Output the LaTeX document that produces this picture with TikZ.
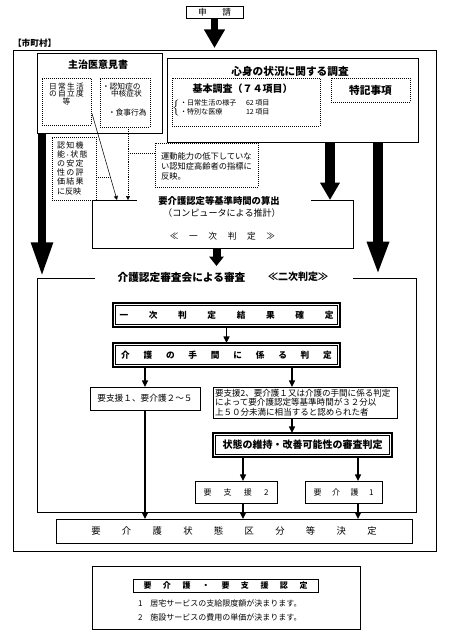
\documentclass[tikz,border=0pt]{standalone}
\usepackage{fontspec}
\setmainfont{Noto Sans CJK JP}
\usetikzlibrary{arrows.meta,calc}
\newcommand\fsz[2]{\fontsize{#1}{#2}\selectfont}
\tikzset{
  sz/.style n args={2}{minimum width=#1*0.75pt, minimum height=#2*0.75pt, inner sep=0pt, outer sep=0pt},
  solidbox/.style={draw, line width=0.6pt},
  dotbox/.style={draw, densely dotted, line width=0.5pt},
  dbl/.style={draw, line width=0.85pt},
  arr/.style={-{Triangle[length=5pt,width=4.5pt]}, line width=1pt},
  thinarr/.style={-{Triangle[length=3pt,width=3pt]}, line width=0.4pt},
  bigA/.style={line width=5.25pt, -{Triangle[width=15pt,length=14pt]}},
  bigB/.style={line width=7.5pt, -{Triangle[width=14pt,length=13pt]}},
  bigC/.style={line width=7.5pt, -{Triangle[width=15pt,length=25pt]}},
  bigD/.style={line width=6pt, -{Triangle[width=15pt,length=26pt]}},
  bigE/.style={line width=6pt, -{Triangle[width=10.5pt,length=7pt]}},
  txt/.style={inner sep=0pt, outer sep=0pt}
}
\begin{document}
\begin{tikzpicture}[x=0.75pt,y=-0.75pt]
\useasboundingbox (0,0) rectangle (451,636);

% top
\node[solidbox, sz={57}{12}, font=\fsz{6.5}{8}] (shinsei) at (214.5,12) {\makebox[24.75pt]{申\hfill 請}};
\node[txt, anchor=west, font=\fsz{6.5}{8}\bfseries] (shi) at (13,43) {【市町村】};
\node[solidbox, sz={423}{501}] (outer) at (224.5,300.5) {};
\draw[bigA] (shinsei.south) -- ($(shinsei.south |- outer.north)+(0,-2)$);

% 主治医意見書
\node[solidbox, sz={125}{80}] (shuji) at (99.5,93) {};
\node[txt, font=\fsz{7.5}{9}\bfseries] (shujit) at (98,65) {主治医意見書};
\node[dotbox, sz={49}{47}] (jiritsu) at (66.5,101.5) {};
\node[txt, align=center, font=\fsz{5.8}{5.9}] (jiritsut) at (66.5,94) {日\,常\,生\,活\\の\,自\,立\,度\\等};
\node[dotbox, sz={50}{49}] (ninchi) at (125,102.5) {};
\node[txt, anchor=west, font=\fsz{5.8}{6}] (nin1) at (102,87) {・認知症の};
\node[txt, anchor=west, font=\fsz{5.8}{6}] (nin2) at (111,94) {中核症状};
\node[txt, anchor=west, font=\fsz{5.8}{6}] (nin3) at (108,113) {・食事行為};

% 心身の状況に関する調査
\node[solidbox, sz={251}{84}] (shinshin) at (292.5,100) {};
\node[txt, font=\fsz{8}{9}\bfseries] (shinshint) at (290,71) {心身の状況に関する調査};
\node[dotbox, sz={148}{48}] (kihon) at (246,102) {};
\node[txt, font=\fsz{7.5}{9}\bfseries] (kihont) at (242.5,89) {基本調査（７４項目）};
\node[txt, anchor=west, font=\fsz{5.3}{6}] (it1) at (180,103) {・日常生活の様子};
\node[txt, anchor=west, font=\fsz{5.3}{6}] (it2) at (180,112) {・特別な医療};
\node[txt, anchor=west, font=\fsz{5.3}{6}] (it1n) at (246,103) {62 項目};
\node[txt, anchor=west, font=\fsz{5.3}{6}] (it2n) at (246,112) {12 項目};
\node[txt] (brace) at (177,108) {$\left\{\vcenter{\hbox{\rule{0pt}{13pt}}}\right.$};
\node[dotbox, sz={79}{24}, font=\fsz{8}{9}\bfseries] (tokki) at (370.5,90) {特記事項};

% side notes
\node[dotbox, sz={44}{63}] (ninchi2) at (74,168.5) {};
\node[txt, align=left, anchor=west, font=\fsz{6}{6.9}] (ninchi2t) at (57,168) {認\,知\,機\\能{\fsz{4}{4}・}状\,態\\の\,安\,定\\性\,の\,評\\価\,結\,果\\に反映};
\node[dotbox, sz={103}{44}] (undou) at (206.5,165) {};
\node[txt, align=left, anchor=west, font=\fsz{6.2}{7.5}] (undout) at (161,166) {運動能力の低下していな\\い認知症高齢者の指標に\\反映。};

% 一次判定 box (open top)
\node[sz={261}{48}] (kijun) at (222.5,224) {};
\draw[line width=0.6pt] ($(kijun.north west)+(45,0)$) -- (kijun.north west) -- (kijun.south west) -- (kijun.south east) -- (kijun.north east) -- ++(-42,0);
\node[txt, font=\fsz{7}{8}\bfseries] (kijunt) at (219,201) {要介護認定等基準時間の算出};
\node[txt, font=\fsz{6.8}{8}] (kijuns) at (222,213) {（コンピュータによる推計）};
\node[txt, font=\fsz{6.5}{8}] (ichiji) at (222.5,236) {\makebox[79pt]{≪\hfill 一\hfill 次\hfill 判\hfill 定\hfill ≫}};

% upper connectors
\coordinate (d1) at ($(jiritsu.east)+(1,12)$);
\coordinate (k1) at ($(kijun.north west)+(25,0)$);
\coordinate (k2) at ($(kijun.north west)+(36,0)$);
\coordinate (k3) at ($(kijun.north east)+(-23,0)$);
\draw[thinarr] (d1) -- (k1);
\draw[thinarr, densely dotted] (ninchi.south -| k2) -- (k2);
\draw[densely dotted, line width=0.5pt] ($(undou.west)+(0,-12)$) coordinate (u1) -- (u1 -| k2);
\coordinate (p) at ($(d1)!0.734!(k1)$);
\draw[densely dotted, line width=0.5pt] (p -| ninchi2.east) -- (p);

% 二次判定 frame (open top)
\node[sz={379}{234}] (niji) at (226.5,395) {};
\draw[line width=0.6pt] ($(niji.north west)+(58,0)$) -- (niji.north west) -- (niji.south west) -- (niji.south east) -- (niji.north east) -- ++(-63,0);
\node[txt, font=\fsz{8}{9}\bfseries] (nijit) at (181.5,277) {介護認定審査会による審査};
\node[txt, font=\fsz{7.5}{9}\bfseries] (nijis) at (298,277) {≪二次判定≫};

% big arrows
\draw[bigB] (shinshin.south -| k3) -- (k3);
\coordinate (n1) at ($(niji.north east)+(-38,-3)$);
\draw[bigC] (shinshin.south -| n1) -- (n1);
\coordinate (n2) at ($(niji.north west)+(5,-1)$);
\draw[bigD] (shuji.south -| n2) -- (n2);
\draw[bigE] ($(kijun.south)+(-6,0)$) -- ++(0,18);

% second-stage boxes
\node[dbl, sz={227}{24}, font=\fsz{6.5}{8}\bfseries] (kakutei) at (226.5,315) {\makebox[160.5pt]{一\hfill 次\hfill 判\hfill 定\hfill 結\hfill 果\hfill 確\hfill 定}};
\node[dbl, sz={227}{24}, font=\fsz{6.5}{8}\bfseries] (tema) at (226.5,355) {\makebox[158pt]{介\hfill 護\hfill の\hfill 手\hfill 間\hfill に\hfill 係\hfill る\hfill 判\hfill 定}};
\draw[arr] (kakutei) -- (tema);

\node[solidbox, sz={110}{23}, font=\fsz{6.5}{8}] (sien) at (145,398.5) {要支援１、要介護２～５};
\node[solidbox, sz={184}{31}] (hosoku) at (305,402.5) {};
\node[txt, align=left, anchor=west, font=\fsz{6.4}{7.1}] (hosokut) at (215,402.5) {要支援2、要介護１又は介護の手間に係る判定\\によって要介護認定等基準時間が３２分以\\上５０分未満に相当すると認められた者};
\node[dbl, sz={179}{24}, font=\fsz{7.5}{9}\bfseries] (jotai) at (302.5,445) {状態の維持・改善可能性の審査判定};
\node[solidbox, sz={82}{22}, font=\fsz{6}{8}] (sien2) at (236,492) {\makebox[48.75pt]{要\hfill 支\hfill 援\hfill 2}};
\node[solidbox, sz={77}{22}, font=\fsz{6}{8}] (kaigo1) at (343.5,492) {\makebox[45pt]{要\hfill 介\hfill 護\hfill 1}};
\node[solidbox, sz={356}{24}, font=\fsz{7}{8}] (kettei) at (234,531) {\makebox[214pt]{要\hfill 介\hfill 護\hfill 状\hfill 態\hfill 区\hfill 分\hfill 等\hfill 決\hfill 定}};

% inner lines of the double-framed boxes
\draw[line width=0.4pt] ($(kakutei.north west)+(2.3,2.3)$) rectangle ($(kakutei.south east)+(-2.3,-2.3)$);
\draw[line width=0.4pt] ($(tema.north west)+(2.3,2.3)$) rectangle ($(tema.south east)+(-2.3,-2.3)$);
\draw[line width=0.4pt] ($(jotai.north west)+(2.3,2.3)$) rectangle ($(jotai.south east)+(-2.3,-2.3)$);

\coordinate (h1) at ($(hosoku.north)+(-13,0)$);
\coordinate (s2) at ($(sien2.north)+(7,0)$);
\coordinate (s3) at ($(kaigo1.north)+(14.5,0)$);
\draw[arr] (sien.north |- tema.south) -- (sien.north);
\draw[arr] (h1 |- tema.south) -- (h1);
\draw[arr] (h1 |- hosoku.south) -- (h1 |- jotai.north);
\draw[arr] (s2 |- jotai.south) -- (s2);
\draw[arr] (s3 |- jotai.south) -- (s3);
\draw[arr] (sien.south) -- (sien.south |- kettei.north);
\draw[arr] (s2 |- sien2.south) -- (s2 |- kettei.north);
\draw[arr] (s3 |- kaigo1.south) -- (s3 |- kettei.north);

% bottom box
\node[solidbox, sz={268}{63}] (nintei) at (226,597.5) {};
\node[solidbox, sz={185}{13}, font=\fsz{6}{7}\bfseries] (ninteit) at (225.5,585.5) {\makebox[123pt]{要\hfill 介\hfill 護\hfill ・\hfill 要\hfill 支\hfill 援\hfill 認\hfill 定}};
\node[txt, anchor=west, font=\fsz{6}{7}] (l1) at (138,603) {1　居宅サービスの支給限度額が決まります。};
\node[txt, anchor=west, font=\fsz{6}{7}] (l2) at (138,617) {2　施設サービスの費用の単価が決まります。};
\end{tikzpicture}
\end{document}
